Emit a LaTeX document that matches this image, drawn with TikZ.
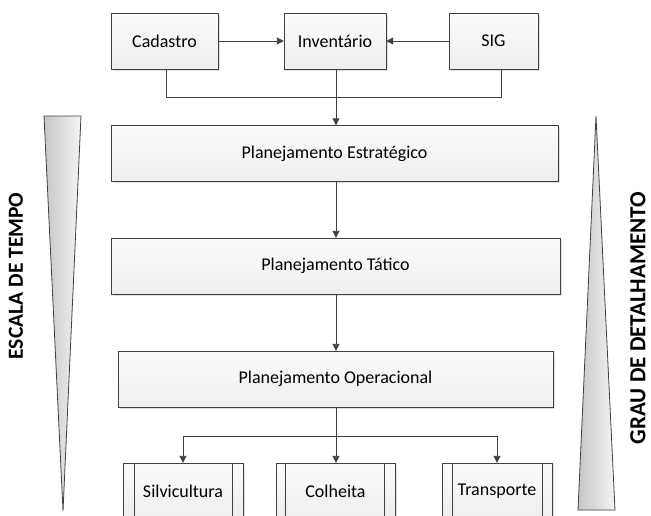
\documentclass[tikz,border=0pt]{standalone}
\usepackage{fontspec}
\setmainfont{Carlito}
\usetikzlibrary{arrows.meta,shadows}
\definecolor{linegray}{HTML}{404040}
\tikzset{
  box/.style={draw=linegray, top color=gray!3, bottom color=gray!13, minimum height=56pt, inner sep=0pt,
    drop shadow={opacity=0.25, shadow xshift=1.5pt, shadow yshift=-1.5pt}, font=\fontsize{18}{20}\selectfont},
  conn/.style={draw=linegray, line width=0.9pt},
  arr/.style={conn, -{Triangle[length=7pt,width=7pt]}},
  wedge/.style={draw=linegray, line width=0.8pt, left color=gray!45, right color=gray!8},
  sidelabel/.style={rotate=90, inner sep=0pt, font=\bfseries\fontsize{21.5}{22}\selectfont}
}
\begin{document}
\begin{tikzpicture}[x=1pt,y=-1pt]
\useasboundingbox (0,0) rectangle (651,515);
\clip (0,0) rectangle (651,515);
% sources
\node[box, minimum width=107pt] (cad) at (164.5,41) {Cadastro};
\node[box, minimum width=102pt] (inv) at (335,41) {Inventário};
\node[box, minimum width=89pt] (sig) at (493.5,41) {SIG};
% planning levels
\node[box, minimum width=447pt] (est) at (334.5,153.5) {Planejamento Estratégico};
\node[box, minimum width=449pt] (tat) at (335.5,266) {Planejamento Tático};
\node[box, minimum width=435pt] (ope) at (335.5,379) {Planejamento Operacional};
% activities
\node[box, minimum width=120pt] (sil) at (183,491) {Silvicultura};
\node[box, minimum width=119pt] (col) at (335.5,491) {Colheita};
\node[box, minimum width=110pt] (tra) at (497,491) {Transporte};
\draw[conn] ([xshift=12pt]sil.north west) -- ([xshift=12pt]sil.south west);
\draw[conn] ([xshift=-11pt]sil.north east) -- ([xshift=-11pt]sil.south east);
\draw[conn] ([xshift=10pt]col.north west) -- ([xshift=10pt]col.south west);
\draw[conn] ([xshift=-11pt]col.north east) -- ([xshift=-11pt]col.south east);
\draw[conn] ([xshift=11pt]tra.north west) -- ([xshift=11pt]tra.south west);
\draw[conn] ([xshift=-10pt]tra.north east) -- ([xshift=-10pt]tra.south east);
% connectors
\coordinate (join) at (336,97);
\coordinate (split) at (336,436);
\draw[arr] (cad) -- (inv);
\draw[arr] (sig) -- (inv);
\draw[conn] ([xshift=1.5pt]cad.south) |- (join);
\draw[conn] ([xshift=7.5pt]sig.south) |- (join);
\draw[arr] (inv.south -| join) -- (est.north -| join);
\draw[arr] (est.south -| join) -- (tat.north -| join);
\draw[arr] (tat.south -| join) -- (ope.north -| join);
\draw[conn] (ope.south -| split) -- (split);
\draw[arr] (split) -| (sil.north);
\draw[arr] (split) -- (col.north -| split);
\draw[arr] (split) -| (tra.north);
% scales
\shade[wedge] (44,116) -- (81,116) -- (63,511) -- cycle;
\shade[wedge] (596,116) -- (615,510) -- (578,510) -- cycle;
\node[sidelabel] (tempo) at (16,276) {ESCALA DE TEMPO};
\node[sidelabel, font=\bfseries\fontsize{23}{24}\selectfont] (grau) at (638,318) {GRAU DE DETALHAMENTO};
\end{tikzpicture}
\end{document}
